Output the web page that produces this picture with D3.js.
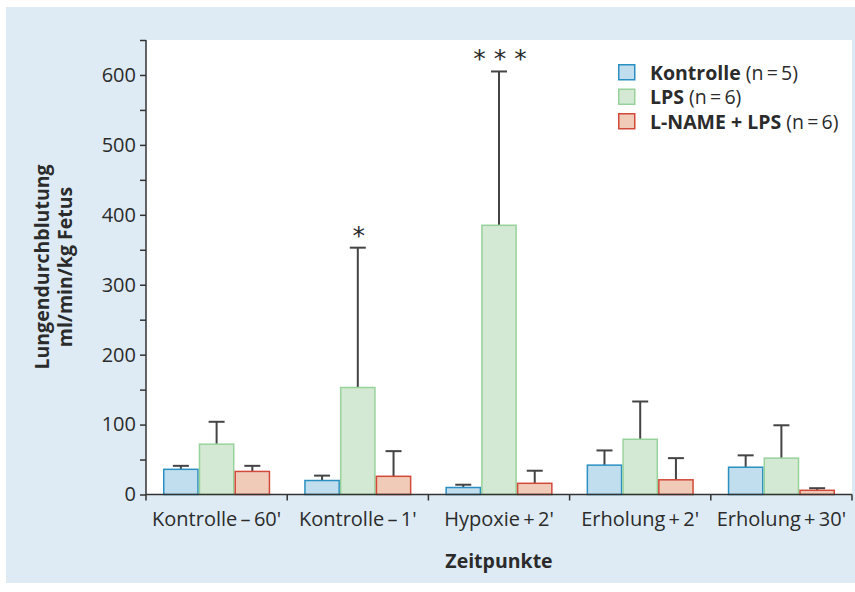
<!DOCTYPE html>
<html>
<head>
<meta charset="utf-8">
<script src="https://cdn.jsdelivr.net/npm/d3@7"></script>
<style>
  body { margin: 0; background: #fff; }
  svg text { font-family: "Open Sans", Lato, sans-serif; fill: #2b2b2b; }
</style>
</head>
<body>
<svg id="chart" width="855" height="592"></svg>
<script>
// data
var categories = ["Kontrolle\u2009\u2013\u200960'", "Kontrolle\u2009\u2013\u20091'", "Hypoxie\u2009+\u20092'", "Erholung\u2009+\u20092'", "Erholung\u2009+\u200930'"];
var seriesNames = ["Kontrolle", "LPS", "L-NAME + LPS"];
var seriesN = ["(n\u2009=\u20095)", "(n\u2009=\u20096)", "(n\u2009=\u20096)"];
var kontrolleMean = [36, 20, 10, 42, 39];
var kontrolleErr = [41, 27, 14, 63, 56];
var lpsMean = [72, 153, 385, 79, 52];
var lpsErr = [104, 353, 605, 133, 99];
var lnameMean = [33, 26, 16, 21, 6];
var lnameErr = [41, 62, 34, 52, 9];
var significance = ["", "*", "* * *", "", ""];   // over LPS bars
var yTicks = [0, 100, 200, 300, 400, 500, 600];

var fills = ["#c1deee", "#d3e9d3", "#f0cbb8"];
var strokes = ["#2a8fc1", "#98d29b", "#d2493a"];

var svg = d3.select("#chart");
var W = 855, H = 592;
var margin = { left: 146, right: 3, top: 40, bottom: 98 };

// background panel
svg.append("rect").attr("x", 6).attr("y", 7).attr("width", W - 6).attr("height", 576).attr("fill", "#deebf5");
svg.append("rect").attr("x", margin.left).attr("y", margin.top)
    .attr("width", W - margin.right - margin.left).attr("height", H - margin.bottom - margin.top)
    .attr("fill", "#fff");

var x0 = d3.scaleBand().domain(categories).range([margin.left, W - margin.right]).paddingInner(0).paddingOuter(0);
var groupPad = 17;
var x1 = d3.scaleBand().domain(seriesNames).range([groupPad, x0.bandwidth() - groupPad]);
var y = d3.scaleLinear().domain([0, 650]).range([H - margin.bottom + 0.5, margin.top]);

var rows = categories.map(function (c, i) {
    return [
        { cat: c, s: seriesNames[0], k: 0, v: kontrolleMean[i], e: kontrolleErr[i] },
        { cat: c, s: seriesNames[1], k: 1, v: lpsMean[i], e: lpsErr[i] },
        { cat: c, s: seriesNames[2], k: 2, v: lnameMean[i], e: lnameErr[i] }
    ];
});

var groups = svg.append("g").selectAll("g").data(rows).enter().append("g")
    .attr("transform", function (d, i) { return "translate(" + x0(categories[i]) + ",0)"; });

// error bars (drawn first so bar outline covers the base)
groups.selectAll("g.err").data(function (d) { return d; }).enter().append("g").attr("class", "err")
    .each(function (d) {
        var g = d3.select(this), cx = x1(d.s) + x1.bandwidth() / 2;
        g.append("line").attr("x1", cx).attr("x2", cx).attr("y1", y(d.v)).attr("y2", y(d.e))
            .attr("stroke", "#444").attr("stroke-width", 2);
        g.append("line").attr("x1", cx - 8).attr("x2", cx + 8).attr("y1", y(d.e)).attr("y2", y(d.e))
            .attr("stroke", "#444").attr("stroke-width", 2);
    });

groups.selectAll("rect").data(function (d) { return d; }).enter().append("rect")
    .attr("x", function (d) { return x1(d.s) + 0.75; })
    .attr("width", x1.bandwidth() - 1.5)
    .attr("y", function (d) { return y(d.v); })
    .attr("height", function (d) { return y(0) - y(d.v); })
    .attr("fill", function (d) { return fills[d.k]; })
    .attr("stroke", function (d) { return strokes[d.k]; })
    .attr("stroke-width", 1.5);

// significance marks
svg.append("g").selectAll("text").data(categories).enter().append("text")
    .attr("x", function (c) { return x0(c) + x1(seriesNames[1]) + x1.bandwidth() / 2 + 1; })
    .attr("y", function (c, i) { return y(lpsErr[i]) - 4; })
    .attr("text-anchor", "middle")
    .style("font-family", "'DejaVu Sans', sans-serif")
    .style("font-size", "25px")
    .text(function (c, i) { return significance[i]; });

// y axis
var yAxis = d3.axisLeft(y).tickValues(yTicks).tickSize(6).tickPadding(4).tickFormat(d3.format("d"));
var yMinor = d3.axisLeft(y).tickValues(d3.range(50, 700, 100)).tickSize(6).tickFormat("");
var gy = svg.append("g").attr("transform", "translate(" + margin.left + ",0)").call(yAxis);
svg.append("g").attr("transform", "translate(" + margin.left + ",0)").call(yMinor).select(".domain").remove();
gy.select(".domain").attr("d", "M0," + y(0) + "V" + margin.top);

// x axis
var xAxis = d3.axisBottom(x0).tickSize(0).tickPadding(17);
var gx = svg.append("g").attr("transform", "translate(0," + y(0) + ")").call(xAxis);
gx.select(".domain").attr("d", "M" + margin.left + ",0H" + (W - margin.right));
gx.append("g").selectAll("line").data(d3.range(categories.length + 1)).enter().append("line")
    .attr("x1", function (i) { return margin.left + i * x0.bandwidth(); })
    .attr("x2", function (i) { return margin.left + i * x0.bandwidth(); })
    .attr("y1", 0).attr("y2", 6).attr("stroke", "#333").attr("stroke-width", 1.5);

svg.selectAll(".tick line").attr("stroke", "#333").attr("stroke-width", 1.5);
svg.selectAll(".domain").attr("stroke", "#333").attr("stroke-width", 1.5);
svg.selectAll(".tick text").style("font-size", "20px").style("font-family", "'Open Sans', sans-serif").attr("fill", "#2b2b2b");

// axis titles
var yt = svg.append("text").attr("transform", "translate(49,267) rotate(-90)")
    .attr("text-anchor", "middle").style("font-size", "19.5px").style("font-weight", "bold");
yt.append("tspan").attr("x", 0).attr("dy", 0).text("Lungendurchblutung");
yt.append("tspan").attr("x", 0).attr("dy", 23).text("ml/min/kg Fetus");

svg.append("text").attr("x", (margin.left + W - margin.right) / 2).attr("y", 568)
    .attr("text-anchor", "middle").style("font-size", "19.5px").style("font-weight", "bold").text("Zeitpunkte");

// legend
var legend = svg.append("g").attr("transform", "translate(618,64)");
var li = legend.selectAll("g").data(seriesNames).enter().append("g")
    .attr("transform", function (d, i) { return "translate(0," + i * 24.5 + ")"; });
li.append("rect").attr("x", 0.75).attr("y", 0.75).attr("width", 16).attr("height", 15)
    .attr("fill", function (d, i) { return fills[i]; })
    .attr("stroke", function (d, i) { return strokes[i]; }).attr("stroke-width", 1.5);
var lt = li.append("text").attr("x", 32).attr("y", 15.5).style("font-size", "19.5px");
lt.append("tspan").style("font-weight", "bold").text(function (d) { return d; });
lt.append("tspan").text(function (d, i) { return " " + seriesN[i]; });
</script>
</body>
</html>
